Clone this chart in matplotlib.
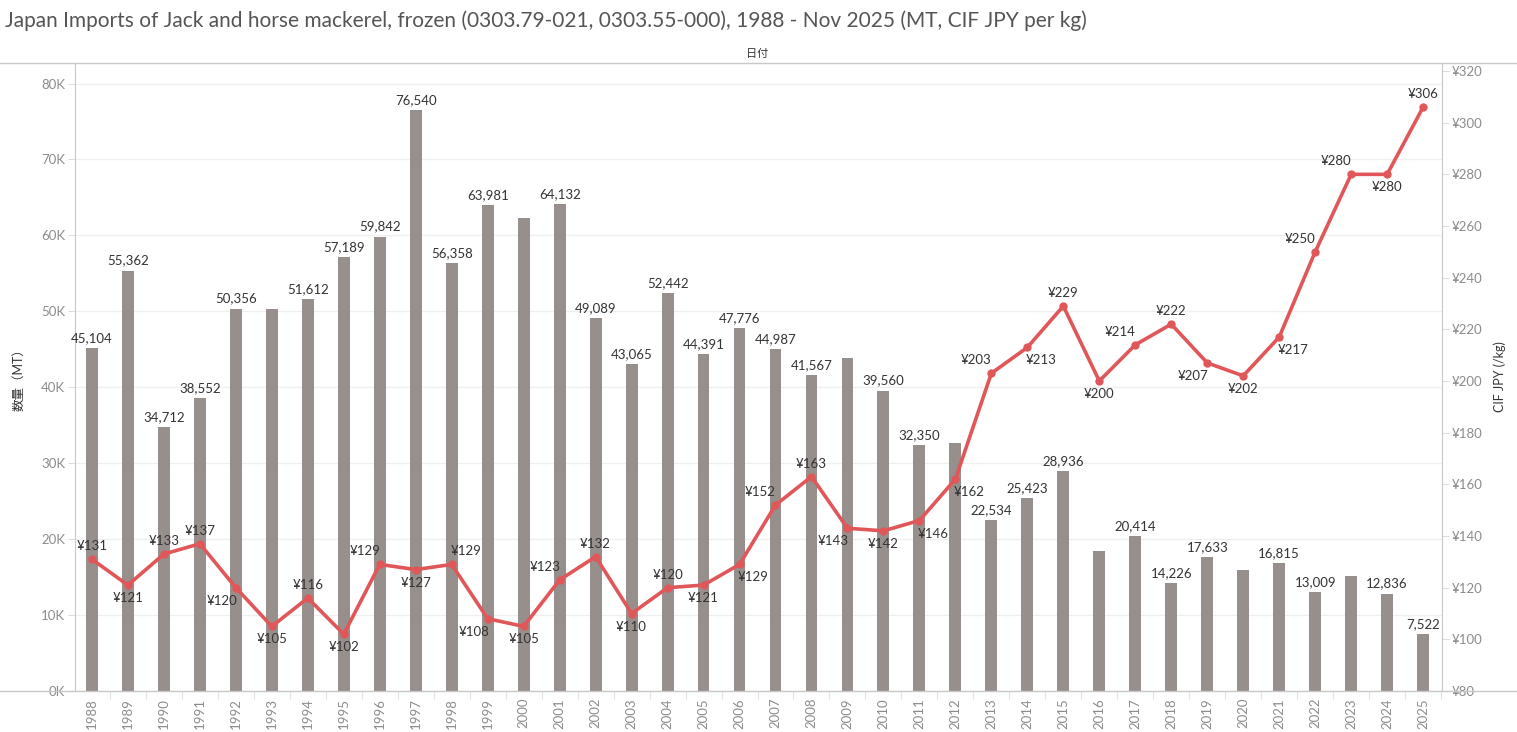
import matplotlib
matplotlib.use("Agg")
import matplotlib.pyplot as plt
from matplotlib.ticker import FuncFormatter, MultipleLocator, FixedLocator
from matplotlib.lines import Line2D

plt.rcParams['font.family'] = ['Lato', 'Noto Sans CJK JP', 'DejaVu Sans']

#%% ── dados ────────────────────────────────────────────────────────────────
years = list(range(1988, 2026))
volume_mt = [45104, 55362, 34712, 38552, 50356, 50300, 51612, 57189, 59842, 76540,
             56358, 63981, 62300, 64132, 49089, 43065, 52442, 44391, 47776, 44987,
             41567, 43850, 39560, 32350, 32660, 22534, 25423, 28936, 18500, 20414,
             14226, 17633, 15900, 16815, 13009, 15100, 12836, 7522]
price_jpy = [131, 121, 133, 137, 120, 105, 116, 102, 129, 127,
             129, 108, 105, 123, 132, 110, 120, 121, 129, 152,
             163, 143, 142, 146, 162, 203, 213, 229, 200, 214,
             222, 207, 202, 217, 250, 280, 280, 306]
# anos sem rótulo na barra
no_label_years = [1993, 2000, 2009, 2012, 2016, 2020, 2023]

# posição do rótulo de preço (a=acima, b=abaixo, l/r = deslocado)
price_label_pos = ['a', 'b', 'a', 'a', 'bl', 'b', 'a', 'b', 'al', 'b',
                   'ar', 'bl', 'b', 'al', 'a', 'b', 'a', 'b', 'br', 'al',
                   'a', 'bl', 'b', 'br', 'br', 'al', 'br', 'a', 'b', 'al',
                   'a', 'bl', 'b', 'br', 'al', 'al', 'b', 'a']

title = ("Japan Imports of Jack and horse mackerel, frozen (0303.79-021, 0303.55-000), "
         "1988 - Nov 2025 (MT, CIF JPY per kg)")

bar_color = "#968f8b"
line_color = "#e15759"
grid_color = "#efefef"
axis_color = "#c8c8c8"
tick_color = "#8c8c8c"
text_color = "#333333"

#%% ── figura ───────────────────────────────────────────────────────────────
W, H = 1517, 732
fig = plt.figure(figsize=(W / 100, H / 100), dpi=100)
x0, x1, y_top, y_bot = 75, 1442, 63, 691
ax = fig.add_axes([x0 / W, 1 - y_bot / H, (x1 - x0) / W, (y_bot - y_top) / H])
ax2 = ax.twinx()

xs = list(range(len(years)))

# barras
ax.bar(xs, volume_mt, width=0.33, color=bar_color, zorder=2)
ax.set_ylim(0, 82700)
ax.set_xlim(-0.47, len(years) - 0.475)
ax.yaxis.set_major_locator(MultipleLocator(10000))
ax.yaxis.set_major_formatter(FuncFormatter(lambda v, p: f"{v/1000:.0f}K"))
ax.grid(True, axis="y", color=grid_color, linewidth=0.9, zorder=0)
ax.set_axisbelow(True)

for x, yr, v in zip(xs, years, volume_mt):
    if yr in no_label_years:
        continue
    ax.annotate(f"{v:,}", (x, v), xytext=(0, 4), textcoords="offset pixels",
                ha="center", va="bottom", fontsize=9.5, color=text_color, zorder=5)

# linha de preço
ax2.plot(xs, price_jpy, color=line_color, linewidth=2.6, marker="o",
         markersize=5, zorder=4)
ax2.set_ylim(80, 323.1)
ax2.yaxis.set_major_locator(MultipleLocator(20))
ax2.yaxis.set_major_formatter(FuncFormatter(lambda v, p: f"¥{v:.0f}"))

offsets = {'a': (0, 13), 'b': (0, -13), 'al': (-15, 13), 'ar': (14, 13),
           'bl': (-14, -13), 'br': (14, -13)}
for x, p, pos in zip(xs, price_jpy, price_label_pos):
    dx, dy = offsets[pos]
    ax2.annotate(f"¥{p}", (x, p), xytext=(dx, dy), textcoords="offset pixels",
                 ha="center", va="center", fontsize=9.5, color=text_color, zorder=6)

# eixo x
ax.set_xticks(xs)
ax.set_xticklabels([str(y) for y in years], rotation=90, fontsize=9.5, color=tick_color)
ax.xaxis.set_minor_locator(FixedLocator([i - 0.5 for i in range(len(years) + 1)]))
ax.tick_params(axis="x", which="major", length=0, pad=5)
ax.tick_params(axis="x", which="minor", length=6, color="#e3e3e3", width=0.8)

ax.tick_params(axis="y", length=5, color="#dddddd", labelsize=9.5, labelcolor=tick_color, pad=2)
ax2.tick_params(axis="y", length=5, color="#dddddd", labelsize=9.5, labelcolor=tick_color, pad=2)

for a in (ax, ax2):
    a.spines["top"].set_visible(False)
    a.spines["bottom"].set_visible(False)
    a.spines["left"].set_color(axis_color)
    a.spines["right"].set_color(axis_color)
ax2.spines["left"].set_visible(False)
ax.spines["right"].set_visible(False)

# linhas horizontais de largura total
for yy in (y_top, y_bot):
    fig.add_artist(Line2D([0, 1], [1 - yy / H, 1 - yy / H], transform=fig.transFigure,
                          color=axis_color, linewidth=1.0))

# textos
fig.text(5 / W, 1 - 21 / H, title, fontsize=15, color="#555555", ha="left", va="center")
fig.text(757 / W, 1 - 53 / H, "日付", fontsize=8, color=text_color, ha="center", va="center")
fig.text(18 / W, 1 - 377 / H, "数量（MT）", rotation=90, fontsize=9, color=text_color,
         ha="center", va="center")
fig.text(1500 / W, 1 - 377 / H, "CIF JPY (/kg)", rotation=90, fontsize=9, color=text_color,
         ha="center", va="center")

fig.savefig("out.png", dpi=100)
